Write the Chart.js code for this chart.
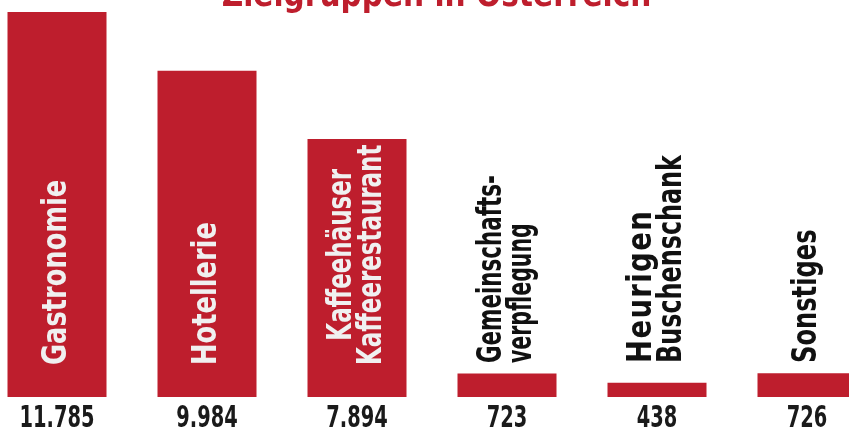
<!DOCTYPE html>
<html>
<head>
<meta charset="utf-8">
<script src="https://cdn.jsdelivr.net/npm/chart.js@4"></script>
<style>
  html, body { margin: 0; padding: 0; background: #fff; overflow: hidden; }
  #wrap { position: absolute; left: -18.5px; top: 0; width: 900px; height: 427px; }
</style>
</head>
<body>
<div id="wrap"><canvas id="chart"></canvas></div>
<script>
const titleText = 'Zielgruppen in Österreich';
const categories = [
    ['Gastronomie'],
    ['Hotellerie'],
    ['Kaffeehäuser', 'Kaffeerestaurant'],
    ['Gemeinschafts-', 'verpflegung'],
    ['Heurigen', 'Buschenschank'],
    ['Sonstiges'],
];
const values = [11785, 9984, 7894, 723, 438, 726];
const valueLabels = ['11.785', '9.984', '7.894', '723', '438', '726'];

const RED = '#be1e2d';
const FONT = '"DejaVu Sans Condensed", "DejaVu Sans", sans-serif';
// the original typesets each name a bit differently; squeeze/tracking per line, alignment per name
const squeeze = [[0.84], [0.84], [0.75, 0.75], [0.70, 0.67], [0.9, 0.78], [0.79]];
const tracking = [[0], [0], [0, 0], [0, 0], [1.5, 0], [0]];
const align = ['left', 'left', 'center', 'left', 'left', 'left'];

// draw text squeezed along its own direction (the original uses a narrow face)
function narrowText(ctx, text, x, y, sx) {
    ctx.save();
    ctx.translate(x, y);
    ctx.scale(sx, 1);
    ctx.fillText(text, 0, 0);
    ctx.restore();
}

const labelsPlugin = {
    id: 'barLabels',
    afterDatasetsDraw(chart) {
        const { ctx } = chart;
        const meta = chart.getDatasetMeta(0);
        ctx.save();

        // title, cut off at the top like in the original
        ctx.font = `bold 36px ${FONT}`;
        ctx.fillStyle = RED;
        ctx.textAlign = 'center';
        ctx.textBaseline = 'alphabetic';
        narrowText(ctx, titleText, 454.5, 6, 0.915);

        meta.data.forEach((bar, i) => {
            // value under the bar
            ctx.font = `bold 30px ${FONT}`;
            ctx.fillStyle = '#1a1a1a';
            ctx.textAlign = 'center';
            ctx.textBaseline = 'alphabetic';
            narrowText(ctx, valueLabels[i], bar.x, 427, 0.72);

            // rotated category name
            const lines = categories[i];
            const inside = i < 3;
            ctx.save();
            ctx.translate(bar.x, inside ? 365 : 363);
            ctx.rotate(-Math.PI / 2);
            ctx.font = `bold 34px ${FONT}`;
            ctx.fillStyle = inside ? '#f0f0f0' : '#111';
            ctx.textBaseline = 'middle';
            ctx.textAlign = 'left';
            const lh = 30;
            const widths = lines.map((l, j) => ctx.measureText(l).width * squeeze[i][j]);
            const longest = Math.max(...widths);
            lines.forEach((line, j) => {
                const off = (j - (lines.length - 1) / 2) * lh;
                const start = align[i] === 'center' ? (longest - widths[j]) / 2 : 0;
                ctx.letterSpacing = tracking[i][j] + 'px';
                narrowText(ctx, line, start, off, squeeze[i][j]);
            });
            ctx.letterSpacing = '0px';
            ctx.restore();
        });
        ctx.restore();
    },
};

new Chart(document.getElementById('chart'), {
    type: 'bar',
    data: {
        labels: categories.map((c) => c.join(' ')),
        datasets: [{
            data: values,
            backgroundColor: RED,
            borderWidth: 0,
            barPercentage: 0.66,
            categoryPercentage: 1,
        }],
    },
    options: {
        responsive: true,
        maintainAspectRatio: false,
        animation: false,
        layout: { padding: { top: 12, bottom: 30, left: 0, right: 0 } },
        plugins: { legend: { display: false }, tooltip: { enabled: false } },
        scales: {
            x: { display: false },
            y: { display: false, min: 0, max: 11785 },
        },
    },
    plugins: [labelsPlugin],
});
</script>
</body>
</html>
